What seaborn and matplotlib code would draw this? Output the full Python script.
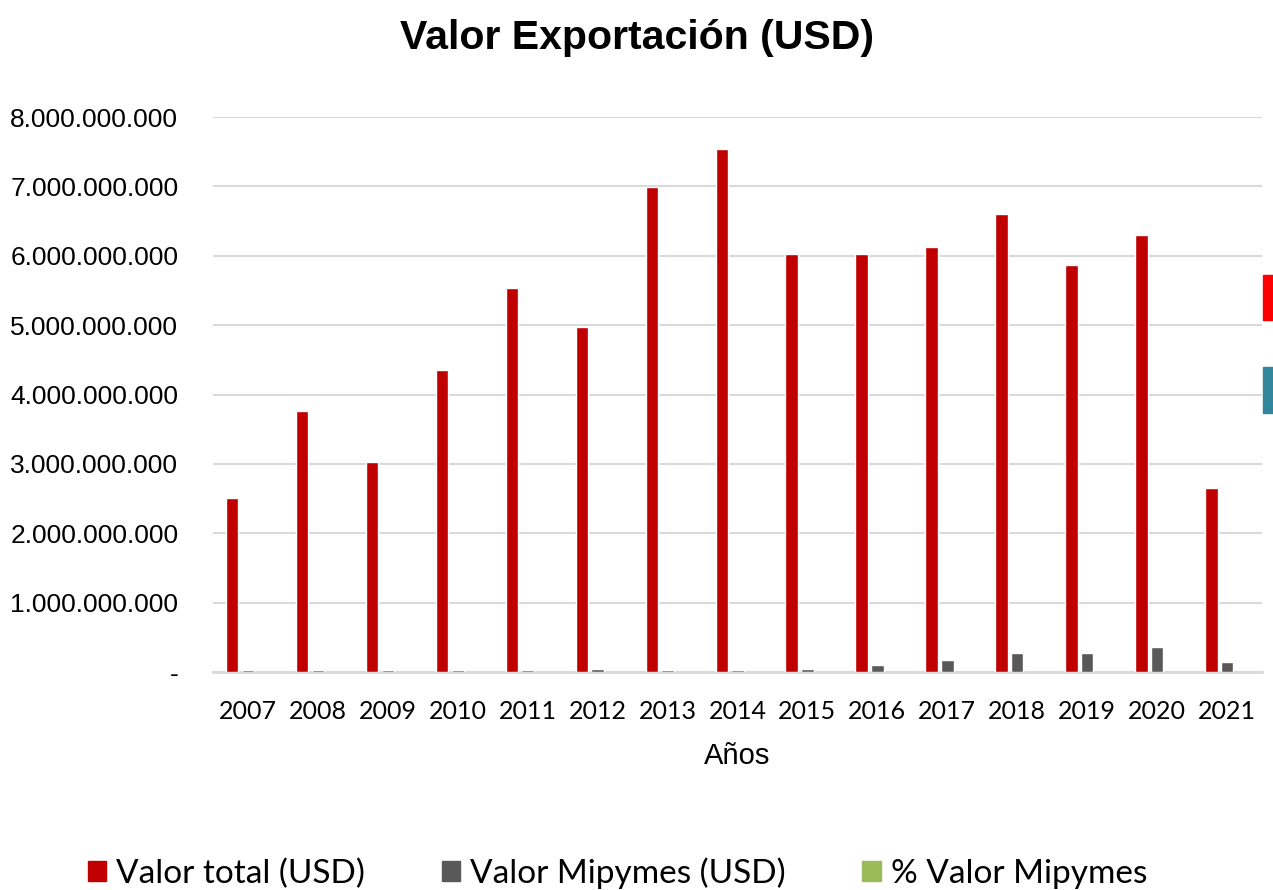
import matplotlib
matplotlib.use("Agg")
import matplotlib.pyplot as plt
import matplotlib.patches as mpatches
import matplotlib.ticker as mticker
import numpy as np
import pandas as pd
import seaborn as sns

# ===============================
# Datos
# ===============================
anios = ["2007", "2008", "2009", "2010", "2011", "2012", "2013", "2014",
         "2015", "2016", "2017", "2018", "2019", "2020", "2021"]
valor_total = [2.51e9, 3.76e9, 3.03e9, 4.35e9, 5.53e9, 4.97e9, 6.99e9, 7.54e9,
               6.02e9, 6.02e9, 6.12e9, 6.60e9, 5.86e9, 6.30e9, 2.65e9]
valor_mipymes = [0.025e9, 0.036e9, 0.036e9, 0.036e9, 0.036e9, 0.045e9, 0.036e9, 0.036e9,
                 0.048e9, 0.105e9, 0.18e9, 0.27e9, 0.28e9, 0.355e9, 0.15e9]
series = ["Valor total (USD)", "Valor Mipymes (USD)", "% Valor Mipymes"]
colores = ["#c00000", "#595959", "#9bbb59"]

df = pd.DataFrame({
    "Año": anios * 2,
    "Valor": valor_total + valor_mipymes,
    "Serie": [series[0]] * len(anios) + [series[1]] * len(anios),
})

# ===============================
# Estilo
# ===============================
sns.set_theme(style="white")
plt.rcParams['font.family'] = ['Liberation Sans', 'DejaVu Sans']
plt.rcParams['text.color'] = 'black'
plt.rcParams['xtick.color'] = 'black'
plt.rcParams['ytick.color'] = 'black'
plt.rcParams['axes.labelcolor'] = 'black'

fig = plt.figure(figsize=(12.73, 8.9), dpi=100)
ax = fig.add_axes([213 / 1273, 1 - 672 / 890, (1262 - 213) / 1273, (672 - 117) / 890])

# barras: rojo a la izquierda, gris al centro (tercera serie vacía a la derecha)
x = np.arange(len(anios))
ancho = 0.178
ax.bar(x - 0.225, valor_total, width=ancho, color=colores[0], zorder=3)
ax.bar(x, valor_mipymes, width=ancho, color=colores[1], zorder=3)

ax.set_xlim(-0.5, len(anios) - 0.5)
ax.set_ylim(0, 8e9)
ax.set_yticks(np.arange(0, 8.5e9, 1e9))


def fmt(v, pos):
    if v == 0:
        return "-"
    return f"{int(v):,}".replace(",", ".")


ax.yaxis.set_major_formatter(mticker.FuncFormatter(fmt))
ax.set_xticks(x)
ax.set_xticklabels(anios, fontfamily=['Lato', 'DejaVu Sans'], fontsize=18)
ax.tick_params(axis='y', labelsize=19, pad=25, length=0)
ax.tick_params(axis='x', length=0, pad=20)

ax.grid(axis='y', color='#d9d9d9', linewidth=1.5, zorder=0)
ax.set_axisbelow(True)
for s in ["top", "right", "left"]:
    ax.spines[s].set_visible(False)
ax.spines["bottom"].set_color('#d9d9d9')
ax.spines["bottom"].set_linewidth(2)
ax.spines["bottom"].set_zorder(1)

ax.set_xlabel("Años", fontsize=21, labelpad=14)
fig.text(0.5, 0.957, "Valor Exportación (USD)", ha='center', va='center',
         fontsize=29.5, fontweight='bold')

# leyenda
handles = [mpatches.Patch(color=c, label=l) for c, l in zip(colores, series)]
fig.legend(handles=handles, loc='center', bbox_to_anchor=(0.485, 0.019), ncol=3,
           frameon=False, prop={'family': 'Lato', 'size': 24},
           handlelength=0.55, handleheight=0.55, handletextpad=0.3, columnspacing=2.3)

# marcas recortadas en el borde derecho
fig.patches.append(mpatches.Rectangle((1263 / 1273, 1 - 320 / 890), 10 / 1273, 45 / 890,
                                      transform=fig.transFigure, color='#ff0000'))
fig.patches.append(mpatches.Rectangle((1263 / 1273, 1 - 413 / 890), 10 / 1273, 46 / 890,
                                      transform=fig.transFigure, color='#31869b'))

fig.savefig("out.png", dpi=100)
